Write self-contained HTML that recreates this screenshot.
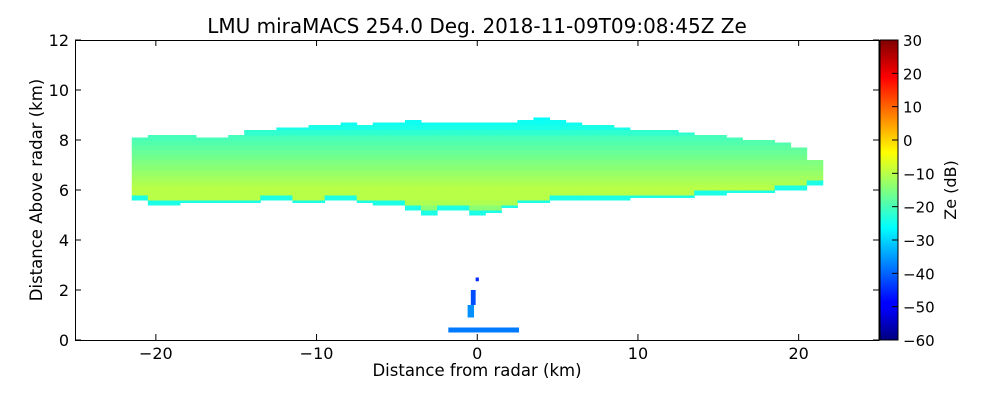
<!DOCTYPE html>
<html><head><meta charset="utf-8"><style>
body{margin:0;background:#fff;width:1000px;height:400px;overflow:hidden;font-family:"DejaVu Sans",sans-serif}
</style></head><body>
<svg id="chart" width="1000" height="400" font-family="DejaVu Sans, sans-serif">
<text x="477" y="33" font-size="20" text-anchor="middle">LMU miraMACS 254.0 Deg. 2018-11-09T09:08:45Z  Ze</text>
<g id="cells"></g>
<rect x="75.5" y="40.5" width="803.5" height="300" fill="none" stroke="#000"/>
<g id="axes" font-size="16"></g>
<text x="477" y="376" font-size="16.5" text-anchor="middle">Distance from radar (km)</text>
<text transform="translate(42,190) rotate(-90)" font-size="16.5" text-anchor="middle">Distance Above radar  (km)</text>
<defs><linearGradient id="jet" x1="0" y1="1" x2="0" y2="0">
<stop offset="0" stop-color="#00007f"/><stop offset="0.11" stop-color="#0000ff"/><stop offset="0.125" stop-color="#0000ff"/><stop offset="0.375" stop-color="#00ffff"/><stop offset="0.625" stop-color="#ffff00"/><stop offset="0.875" stop-color="#ff0000"/><stop offset="1" stop-color="#7f0000"/></linearGradient></defs>
<rect x="880" y="40" width="18" height="300" fill="url(#jet)" stroke="#000"/>
<g id="cbar" font-size="15"></g>
<text transform="translate(956,190) rotate(-90)" font-size="16" text-anchor="middle">Ze (dB)</text>
</svg>
<script>
const xTicks=[-20,-10,0,10,20];
const yTicks=[0,2,4,6,8,10,12];
const cbTicks=[-60,-50,-40,-30,-20,-10,0,10,20,30];
const colX=[-21,-20,-19,-18,-17,-16,-15,-14,-13,-12,-11,-10,-9,-8,-7,-6,-5,-4,-3,-2,-1,0,1,2,3,4,5,6,7,8,9,10,11,12,13,14,15,16,17,18,19,20,21];
const topH=[8.1,8.2,8.2,8.2,8.1,8.1,8.2,8.4,8.4,8.5,8.5,8.6,8.6,8.7,8.6,8.7,8.7,8.8,8.7,8.7,8.7,8.7,8.7,8.7,8.8,8.9,8.8,8.7,8.6,8.6,8.5,8.4,8.4,8.4,8.3,8.2,8.2,8.1,8.0,8.0,7.9,7.7,7.2];
const botH=[5.6,5.4,5.4,5.5,5.5,5.5,5.5,5.5,5.6,5.6,5.5,5.5,5.6,5.6,5.5,5.4,5.4,5.2,5.0,5.2,5.2,5.0,5.1,5.3,5.5,5.5,5.6,5.6,5.6,5.6,5.6,5.7,5.7,5.7,5.7,5.8,5.8,5.9,5.9,5.9,6.0,6.0,6.2];
const levels=[4.8,5.0,5.2,5.4,5.6,5.8,6.0,6.2,6.4,6.6,6.8,7.0,7.2,7.4,7.6,7.8,8.0,8.2,8.4,8.6,8.8];
const levelDb=[-22,-20,-14,-11,-10,-10,-10,-11,-12,-13,-14,-15,-16,-17,-18,-19,-20,-22,-24,-25,-26];
const clutterX=[-1.8,-0.6,-0.4,-0.1];
const clutterX2=[2.6,-0.2,-0.1,0.1];
const clutterY=[0.3,0.9,1.4,2.35];
const clutterY2=[0.5,1.4,2.0,2.5];
const clutterDb=[-38,-36,-42,-45];
const X=v=>75.5+(v+25)*803.5/50, Y=v=>340-v*25;
function jet(v){const t=(v+60)/90,c=a=>Math.round(255*Math.max(0,Math.min(1,a)));
return `rgb(${c(1.5-Math.abs(4*t-3))},${c(1.5-Math.abs(4*t-2))},${c(1.5-Math.abs(4*t-1))})`;}
const NS="http://www.w3.org/2000/svg";
function mk(tag,attrs,parent,txt){const e=document.createElementNS(NS,tag);for(const k in attrs)e.setAttribute(k,attrs[k]);if(txt!==undefined)e.textContent=txt;parent.appendChild(e);return e;}
const cells=document.getElementById('cells');
colX.forEach((cx,i)=>{levels.forEach((lv,j)=>{
 if(lv+0.2<=botH[i]||lv>=topH[i])return;
 const lo=Math.max(lv,botH[i]),hi=Math.min(lv+0.2,topH[i]);
 let v=levelDb[j]; if(lo===botH[i]) v=-24;
 const r=mk('rect',{x:X(cx-0.5),y:Y(hi),width:X(cx+0.5)-X(cx-0.5)+0.5,height:Y(lo)-Y(hi)+0.5,fill:jet(v)},cells);
 
 
});});
clutterX.forEach((cx,i)=>{
 const r=mk('rect',{x:X(cx),y:Y(clutterY2[i]),width:X(clutterX2[i])-X(cx),height:Y(clutterY[i])-Y(clutterY2[i]),fill:jet(clutterDb[i])},cells);
 
 
});
const ax=document.getElementById('axes');
xTicks.forEach(t=>{const x=X(t);
 mk('line',{x1:x,x2:x,y1:340,y2:334,stroke:'#000'},ax);mk('line',{x1:x,x2:x,y1:40,y2:46,stroke:'#000'},ax);
 const l=mk('text',{x:x,y:359,'text-anchor':'middle'},ax,(t<0?'\u2212':'')+Math.abs(t));
 
 });
yTicks.forEach(t=>{const y=Y(t);
 mk('line',{x1:75,x2:81,y1:y,y2:y,stroke:'#000'},ax);mk('line',{x1:879,x2:873,y1:y,y2:y,stroke:'#000'},ax);
 const l=mk('text',{x:69,y:y+6,'text-anchor':'end'},ax,t);
 
 });
const cb=document.getElementById('cbar');
cbTicks.forEach(t=>{const y=340-(t+60)/90*300;
 mk('line',{x1:892,x2:898,y1:y,y2:y,stroke:'#000'},cb);
 const l=mk('text',{x:903,y:y+6},cb,(t<0?'\u2212':'')+Math.abs(t));
 
 });
</script>
</body></html>
